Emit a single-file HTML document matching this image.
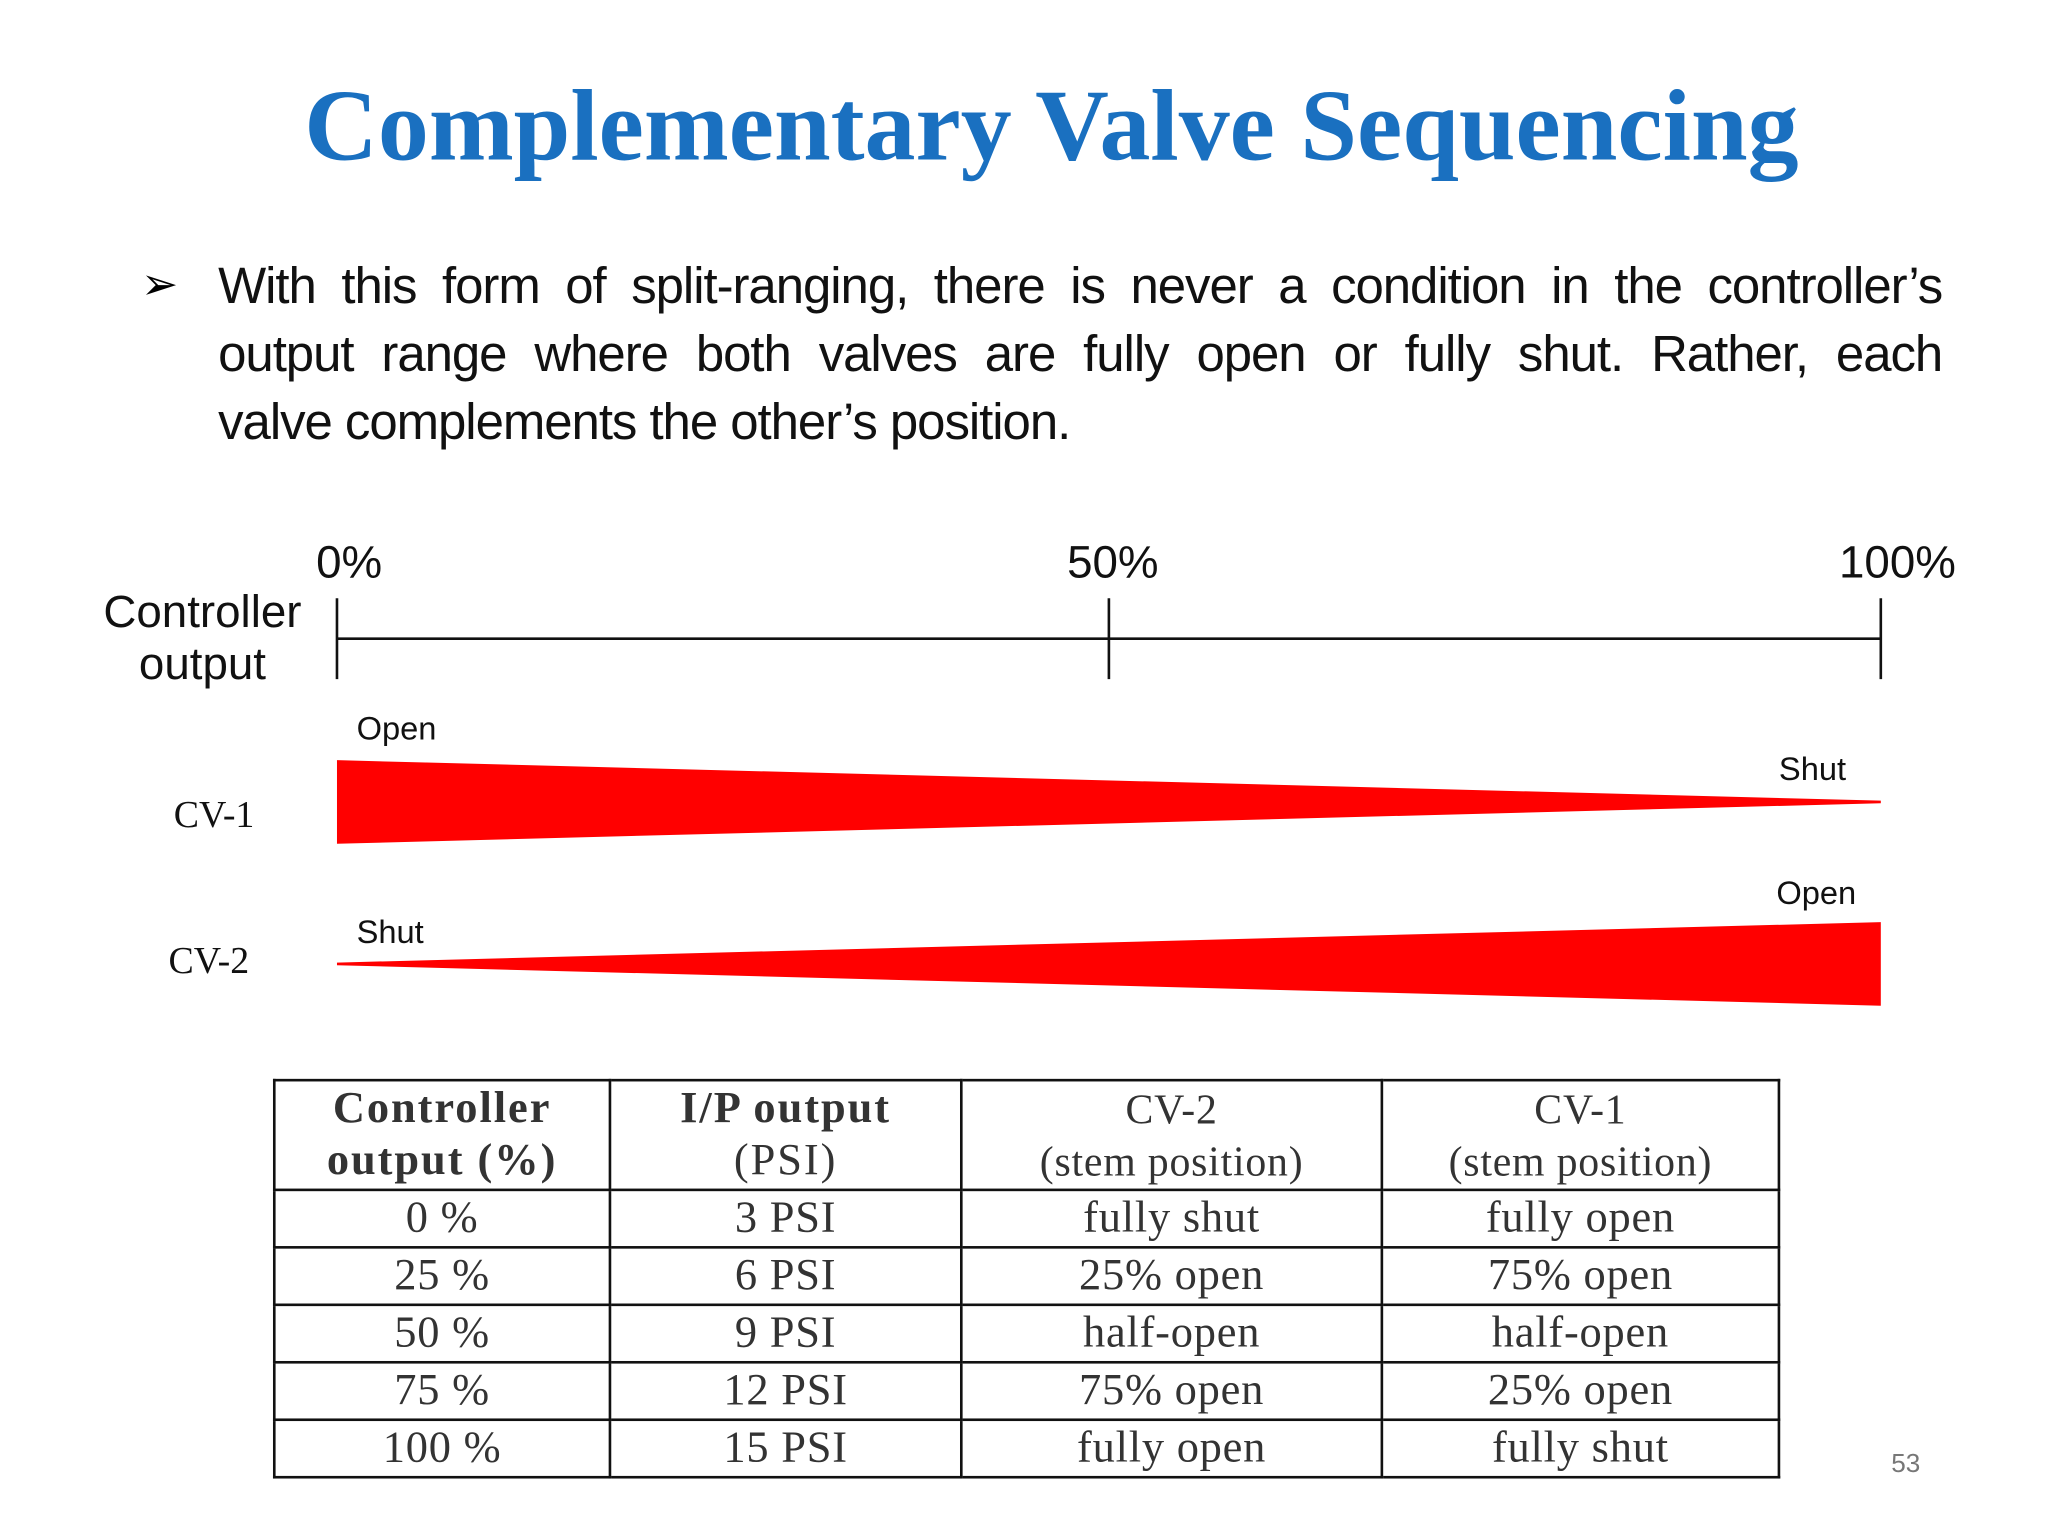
<!DOCTYPE html>
<html><head><meta charset="utf-8"><style>
html,body{margin:0;padding:0;background:#fff;}
#wrap{width:1568px;height:1176px;transform:scale(1.30612,1.30612);transform-origin:0 0;position:relative;overflow:hidden;}
.abs{position:absolute;white-space:nowrap;}
#title{left:0;width:1610px;top:51px;text-align:center;font-family:"Liberation Serif",serif;font-weight:bold;font-size:78px;color:#1a70c0;}
.bl{position:absolute;left:167px;width:1320px;font-family:"Liberation Sans",sans-serif;font-size:39px;line-height:52.5px;color:#111;letter-spacing:-0.8px;white-space:nowrap;}
.just{text-align:justify;text-align-last:justify;}
#arrow{left:108px;top:198px;font-size:34px;font-family:"DejaVu Sans",sans-serif;}
table{position:absolute;left:209px;top:826px;border-collapse:collapse;font-family:"Liberation Serif",serif;color:#333;font-size:34px;letter-spacing:0.6px;}
td{border:2px solid #111;text-align:center;padding:0;line-height:40px;}
</style></head><body>
<div id="wrap">
<div class="abs" id="title">Complementary Valve Sequencing</div>
<div class="abs" id="arrow">➢</div>
<div class="bl just" style="top:194px">With this form of split-ranging, there is never a condition in the controller’s</div>
<div class="bl just" style="top:246px">output range where both valves are fully open or fully shut. Rather, each</div>
<div class="bl" style="top:298px">valve complements the other’s position.</div>
<svg id="chart" width="1568" height="800" style="position:absolute;left:0;top:0"></svg>
<table>
<tr style="height:84px"><td style="width:255px;line-height:40px;font-weight:bold;letter-spacing:1.5px">Controller<br>output (%)</td><td style="width:267px;font-weight:bold;letter-spacing:1.5px">I/P output<br><span style="font-weight:normal">(PSI)</span></td><td style="width:320px;font-size:32px">CV-2<br>(stem position)</td><td style="width:302px;font-size:32px">CV-1<br>(stem position)</td></tr>
<tr style="height:44px"><td>0 %</td><td>3 PSI</td><td>fully shut</td><td>fully open</td></tr>
<tr style="height:44px"><td>25 %</td><td>6 PSI</td><td>25% open</td><td>75% open</td></tr>
<tr style="height:44px"><td>50 %</td><td>9 PSI</td><td>half-open</td><td>half-open</td></tr>
<tr style="height:44px"><td>75 %</td><td>12 PSI</td><td>75% open</td><td>25% open</td></tr>
<tr style="height:44px"><td>100 %</td><td>15 PSI</td><td>fully open</td><td>fully shut</td></tr>
</table>
<div class="abs" style="left:1448px;top:1110px;font-family:'Liberation Sans',sans-serif;font-size:20px;color:#777">53</div>
</div>
<script>
const tickValues=[0,50,100];
const tickLabels=["0%","50%","100%"];
const cv1Open=[100,0];   // opening at 0% and 100% controller output
const cv2Open=[0,100];
const NS="http://www.w3.org/2000/svg";
const svg=document.getElementById('chart');
const x=v=>258+v/100*1182;
const half=v=>1+v/100*31;
function mk(tag,attrs,txt){const e=document.createElementNS(NS,tag);for(const k in attrs)e.setAttribute(k,attrs[k]);if(txt!=null)e.textContent=txt;svg.appendChild(e);return e;}
let ax=mk('line',{x1:x(0),x2:x(100),y1:489,y2:489,stroke:'#111','stroke-width':2});


tickValues.forEach((v,i)=>{
 let t=mk('line',{x1:x(v),x2:x(v),y1:458,y2:520,stroke:'#111','stroke-width':2});
 
 
 let lx=i==0?x(v)-16:(i==1?x(v)-32:x(v)-32);
 let l=mk('text',{x:lx,y:442,'font-family':'Liberation Sans,sans-serif','font-size':35,fill:'#111'},tickLabels[i]);
 
 
});
let c1=mk('text',{x:155,y:480,'text-anchor':'middle','font-family':'Liberation Sans,sans-serif','font-size':35,fill:'#111'},'Controller');


let c2=mk('text',{x:155,y:520,'text-anchor':'middle','font-family':'Liberation Sans,sans-serif','font-size':35,fill:'#111'},'output');


function wedge(vals,cy,name){
 const pts=[[x(0),cy-half(vals[0])],[x(100),cy-half(vals[1])],[x(100),cy+half(vals[1])],[x(0),cy+half(vals[0])]];
 let p=mk('polygon',{points:pts.map(q=>q.join(',')).join(' '),fill:'#ff0000'});
 
 
}
wedge(cv1Open,614,'cv1-wedge');
wedge(cv2Open,738,'cv2-wedge');
const labels=[["CV-1",133,633,'serif',29,'cv1-label'],["CV-2",129,745,'serif',29,'cv2-label'],["Open",273,566,'sans',25,'cv1-open-label'],["Shut",1362,597,'sans',25,'cv1-shut-label'],["Shut",273,722,'sans',25,'cv2-shut-label'],["Open",1360,692,'sans',25,'cv2-open-label']];
labels.forEach(a=>{
 let t=mk('text',{x:a[1],y:a[2],'font-family':a[3]=='serif'?'Liberation Serif,serif':'Liberation Sans,sans-serif','font-size':a[4],fill:'#111'},a[0]);
 
 
});
</script>
</body></html>
